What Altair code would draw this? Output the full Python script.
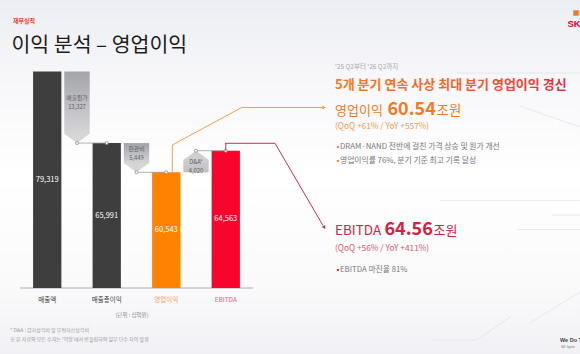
import altair as alt
import pandas as pd

FONT = "Noto Sans CJK KR"

# ---------------- data ----------------
categories = ["매출액", "매출원가", "매출총이익", "판관비", "영업이익", "D&A", "EBITDA"]
bar_cats = ["매출액", "매출총이익", "영업이익", "EBITDA"]
bar_values = [79319, 65991, 60543, 64563]
bar_labels = ["79,319", "65,991", "60,543", "64,563"]
step_cats = ["매출원가", "판관비", "D&A"]
step_names = ["매출원가", "판관비", "D&A*"]
step_from = [79319, 65991, 60543]
step_to = [65991, 60543, 64563]
step_labels = ["13,327", "5,449", "4,020"]
step_next = ["매출총이익", "영업이익", "EBITDA"]

# ---------------- layout / style constants ----------------
OX = 20            # plot-area left edge in the 580x354 canvas
PW, PH = 233, 288  # plot area size
BASE = 39000
YMAX = 92630
px_per_unit = PH / (YMAX - BASE)
TIP_PX = 9
tip_u = TIP_PX / px_per_unit

bar_colors = ["#3e3e3e", "#3e3e3e", "#ff8200", "#f7052d"]
label_colors = ["#3a3a3a", "#3a3a3a", "#f6a05a", "#e9627c"]
ORANGE = "#f27a22"
CRIMSON = "#d7203f"

bars = pd.DataFrame({"cat": bar_cats, "value": bar_values, "label": bar_labels})
bars["base"] = BASE
bars["mid"] = (bars["value"] + BASE) / 2

steps = pd.DataFrame({"cat": step_cats, "name": step_names, "from": step_from,
                      "to": step_to, "label": step_labels, "next": step_next})
steps["dir"] = ["down" if t < f else "up" for f, t in zip(step_from, step_to)]
steps["r_top"] = [f if t < f else t - tip_u for f, t in zip(step_from, step_to)]
steps["r_bot"] = [t + tip_u if t < f else f for f, t in zip(step_from, step_to)]
steps["mid"] = (steps["r_top"] + steps["r_bot"]) / 2

xs = alt.Scale(domain=categories, paddingInner=0.03, paddingOuter=0.43)
ys = alt.Scale(domain=[BASE, YMAX], nice=False, zero=False)


def X(f):
    return alt.X(f, type="nominal", scale=xs, axis=None)


def Y(f):
    return alt.Y(f, type="quantitative", scale=ys, axis=None)


def ax(x):
    return x - OX


def dummy():
    return alt.Chart(alt.Data(values=[{"a": 1}]))


def txt(s, x, y, size, color, weight="normal", align="left", baseline="alphabetic", font=FONT):
    return dummy().mark_text(text=s, align=align, baseline=baseline, fontSize=size,
                             fontWeight=weight, color=color, font=font).encode(
        x=alt.value(ax(x)), y=alt.value(y))


def seg(x1, y1, x2, y2, color, w=1.0):
    return dummy().mark_rule(color=color, strokeWidth=w).encode(
        x=alt.value(ax(x1)), y=alt.value(y1), x2=alt.value(ax(x2)), y2=alt.value(y2))


layers = []

# background
bg = alt.Gradient(gradient="linear", x1=0, y1=0, x2=0, y2=1, stops=[
    alt.GradientStop(color="#eceef3", offset=0),
    alt.GradientStop(color="#f7f7fa", offset=0.22),
    alt.GradientStop(color="#ffffff", offset=0.5),
    alt.GradientStop(color="#fbfafb", offset=0.8),
    alt.GradientStop(color="#f1f0f4", offset=1)])
layers.append(dummy().mark_rect(color=bg).encode(
    x=alt.value(ax(0)), x2=alt.value(ax(580)), y=alt.value(0), y2=alt.value(354)))

# faint decorative lines
DECO = "#e3e4ea"
for a in [(457, 73, 580, 73), (520, 106, 580, 127), (440, 200.5, 580, 200.5),
          (552, 215, 580, 215), (517, 229.5, 580, 229.5), (530, 323, 580, 292),
          (477, 340, 510, 317), (433, 340, 477, 340)]:
    layers.append(seg(*a, DECO, 0.8))

# baseline
layers.append(alt.Chart(bars).mark_rule(color="#cfd0d5", strokeWidth=1).encode(
    x=alt.value(0), x2=alt.value(PW), y=Y("base")))

# total bars
layers.append(alt.Chart(bars).mark_bar(width=alt.RelativeBandSize(0.98)).encode(
    x=X("cat"), y=Y("value"), y2="base",
    color=alt.Color("cat:N", scale=alt.Scale(domain=bar_cats, range=bar_colors), legend=None)))

# step boxes (decrease)
grad_dec = alt.Gradient(gradient="linear", x1=0, y1=0, x2=0, y2=1, stops=[
    alt.GradientStop(color="#a3a4a9", offset=0),
    alt.GradientStop(color="#d6d6d9", offset=1)])
layers.append(alt.Chart(steps).transform_filter("datum.dir == 'down'").mark_bar(
    width=alt.RelativeBandSize(0.88), color=grad_dec).encode(
    x=X("cat"), y=Y("r_top"), y2="r_bot"))
SZ = 645
layers.append(alt.Chart(steps).transform_filter("datum.dir == 'down'").mark_point(
    shape="M-1,-0.74L1,-0.74L0,0Z", size=SZ, filled=True, color="#d6d6d9",
    opacity=1, strokeWidth=0).encode(x=X("cat"), y=Y("to")))

# step box (increase)
grad_inc = alt.Gradient(gradient="linear", x1=0, y1=0, x2=0, y2=1, stops=[
    alt.GradientStop(color="#cfcfd2", offset=0),
    alt.GradientStop(color="#c0c0c4", offset=1)])
layers.append(alt.Chart(steps).transform_filter("datum.dir == 'up'").mark_bar(
    width=alt.RelativeBandSize(0.88), color=grad_inc).encode(
    x=X("cat"), y=Y("r_top"), y2="r_bot"))
layers.append(alt.Chart(steps).transform_filter("datum.dir == 'up'").mark_point(
    shape="M-1,0.74L1,0.74L0,0Z", size=SZ, filled=True, color="#cfcfd2",
    opacity=1, strokeWidth=0).encode(x=X("cat"), y=Y("to")))

# connectors
layers.append(alt.Chart(steps).mark_rule(color="#9c9ca0", strokeWidth=0.8).encode(
    x=X("cat"), x2=alt.X2("next"), y=Y("to")))
for fld in ["cat", "next"]:
    layers.append(alt.Chart(steps).mark_point(
        shape="circle", size=9, filled=True, color="#ffffff", stroke="#8a8a8e",
        strokeWidth=0.8, opacity=1).encode(x=X(fld), y=Y("to")))

# box texts
layers.append(alt.Chart(steps).mark_text(fontSize=5.8, color="#5c5c60", baseline="middle",
                                         dy=-4.5, font=FONT).encode(
    x=X("cat"), y=Y("mid"), text="name"))
layers.append(alt.Chart(steps).mark_text(fontSize=5.8, color="#5c5c60", baseline="middle",
                                         dy=4.5, font=FONT).encode(
    x=X("cat"), y=Y("mid"), text="label"))

# value labels inside bars
layers.append(alt.Chart(bars).mark_text(fontSize=7.5, color="#ffffff", baseline="middle",
                                        font=FONT).encode(
    x=X("cat"), y=Y("mid"), text="label"))

# category labels
for c, col in zip(bar_cats, label_colors):
    layers.append(alt.Chart(bars).transform_filter(alt.datum.cat == c).mark_text(
        fontSize=6.5, baseline="alphabetic", font=FONT, color=col).encode(
        x=X("cat"), y=alt.value(301.5), text="cat"))

# leader lines
ORL = "#f2a04e"
REDL = "#c9304f"
layers.append(alt.Chart(bars).transform_filter(alt.datum.cat == bar_cats[2]).mark_rule(
    color=ORL, strokeWidth=1).encode(x=alt.value(ax(172.3)), y=Y("value"), y2=alt.value(145)))
layers.append(seg(172.3, 145, 241.7, 107.5, ORL))
layers.append(seg(241.7, 107.5, 322, 107.5, ORL))
layers.append(dummy().mark_point(shape="triangle-right", size=16, filled=True, color=ORL,
                                 opacity=1).encode(x=alt.value(ax(324)), y=alt.value(107.5)))
layers.append(alt.Chart(bars).transform_filter(alt.datum.cat == bar_cats[3]).mark_rule(
    color=REDL, strokeWidth=1).encode(x=X("cat"), y=Y("value"), y2=alt.value(143.3)))
layers.append(seg(225, 143.3, 275, 143.3, REDL))
layers.append(seg(275, 143.3, 323, 225.5, REDL))
layers.append(dummy().mark_point(shape="triangle-down", size=16, filled=True, color=REDL,
                                 angle=330, opacity=1).encode(x=alt.value(ax(324.3)), y=alt.value(227.5)))

# title area
layers.append(txt("재무실적", 13, 23, 6, "#e8452c", weight="bold"))
layers.append(txt("이익 분석 – 영업이익", 11.5, 52, 20.5, "#1c1c1c"))
layers.append(txt("SK", 567.5, 27, 9.5, "#e2002b", weight="bold", font="Liberation Sans"))
layers.append(dummy().mark_point(shape="square", size=30, filled=True, color="#f47725",
                                 opacity=1).encode(x=alt.value(ax(576)), y=alt.value(13)))

# right-hand annotations
layers.append(txt("'25 Q2부터 '26 Q2까지", 335, 68.5, 6.5, "#a8a8ac"))
head_grad = alt.Gradient(gradient="linear", x1=0, y1=0, x2=1, y2=0, stops=[
    alt.GradientStop(color="#f47b20", offset=0),
    alt.GradientStop(color="#f0622a", offset=0.55),
    alt.GradientStop(color="#e02c40", offset=1)])
layers.append(dummy().mark_text(text="5개 분기 연속 사상 최대 분기 영업이익 경신", align="left",
                                baseline="alphabetic", fontSize=13, fontWeight="bold",
                                color=head_grad, font=FONT).encode(
    x=alt.value(ax(335)), y=alt.value(88.5)))

layers.append(txt("영업이익", 335, 114.5, 13, ORANGE))
layers.append(txt("60.54", 387.5, 114.5, 18, ORANGE, weight="bold"))
layers.append(txt("조원", 436.5, 114.5, 13.5, ORANGE))
layers.append(txt("(QoQ +61% / YoY +557%)", 335, 128.5, 8.3, "#f29a50"))
layers.append(txt("▪", 334.5, 148.7, 7, ORANGE))
layers.append(txt("DRAM·NAND 전반에 걸친 가격 상승 및 원가 개선", 340, 148.7, 7.8, "#77777c"))
layers.append(txt("▪", 334.5, 163.4, 7, ORANGE))
layers.append(txt("영업이익률 76%, 분기 기준 최고 기록 달성", 340, 163.4, 7.8, "#77777c"))

layers.append(txt("EBITDA", 335, 235, 13.5, CRIMSON))
layers.append(txt("64.56", 384.5, 235, 18, CRIMSON, weight="bold"))
layers.append(txt("조원", 433.5, 235, 13, CRIMSON))
layers.append(txt("(QoQ +56% / YoY +411%)", 335, 251, 8.3, "#e0556e"))
layers.append(txt("▪", 334.5, 272, 7, CRIMSON))
layers.append(txt("EBITDA 마진율 81%", 340, 272, 7.8, "#77777c"))

# unit + footnotes
layers.append(txt("(단위 : 십억원)", 132, 317, 5.5, "#8a8a8e", align="center"))
layers.append(txt("* D&A : 감가상각비 및 무형자산상각비", 10, 332, 5, "#9a9a9e"))
layers.append(txt("※ 본 자료의 모든 수치는 '억원'에서 반올림하여 일부 단수 차이 발생", 10, 341, 5, "#9a9a9e"))
layers.append(txt("We Do Technology", 560, 342, 5.5, "#444448", weight="bold", font="Liberation Sans"))
layers.append(txt("SK hynix", 561, 347.5, 3.5, "#77777b", font="Liberation Sans"))

chart = alt.layer(*layers).properties(
    width=PW, height=PH, autosize="none", background="#ffffff",
    padding={"left": OX, "top": 0, "right": 580 - OX - PW, "bottom": 354 - PH}
).configure_view(stroke=None)

chart.save("out.html", embed_options={"renderer": "svg", "actions": False})
